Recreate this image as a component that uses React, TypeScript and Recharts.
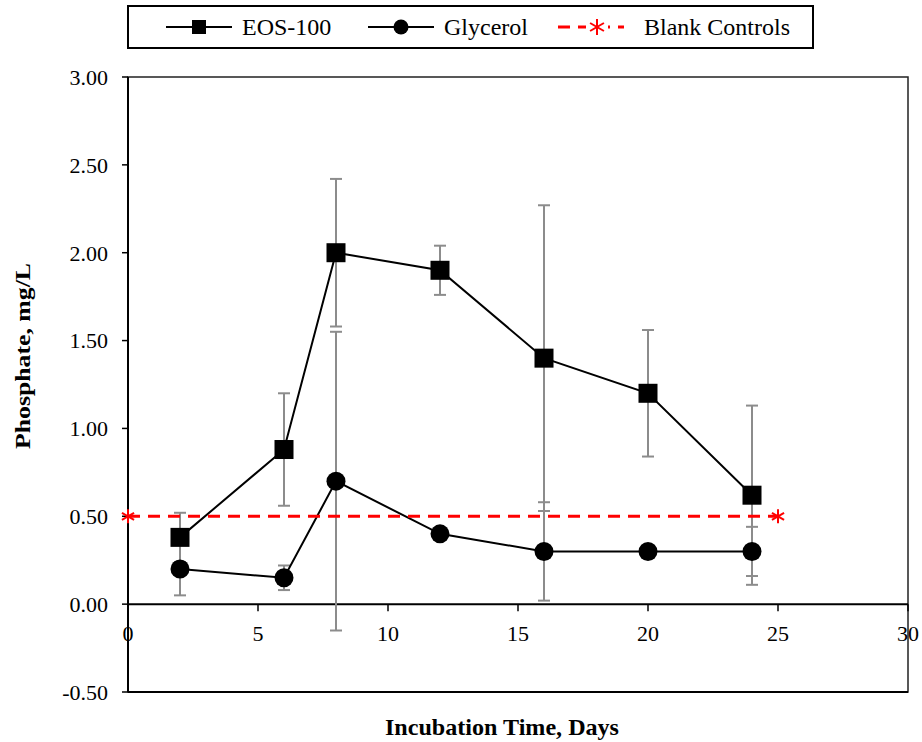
import React from 'react';
import {
  LineChart,
  Line,
  XAxis,
  YAxis,
  ErrorBar,
  ReferenceLine,
  ReferenceArea,
} from 'recharts';

// values
const days = [2, 6, 8, 12, 16, 20, 24];
const eosValues = [0.38, 0.88, 2.0, 1.9, 1.4, 1.2, 0.62];
const eosErrors = [0.14, 0.32, 0.42, 0.14, 0.87, 0.36, 0.51];
const glycerolValues = [0.2, 0.15, 0.7, 0.4, 0.3, 0.3, 0.3];
const glycerolErrors = [0.15, 0.07, 0.85, 0.03, 0.28, 0.03, 0.14];
const blankDays = [0, 25];
const blankValues = [0.5, 0.5];
const xTicks = [0, 5, 10, 15, 20, 25, 30];
const yTicks = [-0.5, 0, 0.5, 1, 1.5, 2, 2.5, 3];

const eosData = days.map((d, i) => ({ day: d, value: eosValues[i], err: eosErrors[i] }));
const glycerolData = days.map((d, i) => ({ day: d, value: glycerolValues[i], err: glycerolErrors[i] }));
const blankData = blankDays.map((d, i) => ({ day: d, value: blankValues[i] }));

const W = 922;
const H = 742;
const MARGIN = { top: 77, right: 14, left: 0, bottom: 0 };
const Y_AXIS_W = 128;
const X_AXIS_H = 50;
const Y_MIN = -0.5;
const Y_MAX = 3;
const PLOT_H = H - MARGIN.top - MARGIN.bottom - X_AXIS_H;
// the x axis crosses at y = 0, so its ticks sit above the bottom of the plot
const ZERO_SHIFT = (PLOT_H * (0 - Y_MIN)) / (Y_MAX - Y_MIN);

const FONT = '"Liberation Serif", "Times New Roman", serif';
const ERR_COLOR = '#8c8c8c';

const XTick = (props: any) => {
  const { x, y, payload } = props;
  const y0 = y - ZERO_SHIFT;
  return (
    <g>
      <line x1={x} y1={y0} x2={x} y2={y0 + 7} stroke="#000" strokeWidth={1.5} />
      <text x={x} y={y0 + 37} textAnchor="middle" fontFamily={FONT} fontSize={22} fill="#000">
        {payload.value}
      </text>
    </g>
  );
};

const XLabel = (props: any) => {
  const { viewBox } = props;
  const cx = viewBox.x + viewBox.width / 2 - 16;
  const cy = viewBox.y + 43;
  return (
    <text
      x={cx}
      y={cy}
      textAnchor="middle"
      fontFamily={FONT}
      fontWeight="bold"
      fontSize={24}
      textLength={234}
      lengthAdjust="spacingAndGlyphs"
      fill="#000"
    >
      Incubation Time, Days
    </text>
  );
};

const YLabel = (props: any) => {
  const { viewBox } = props;
  const cx = viewBox.x + 22;
  const cy = 356;
  return (
    <text
      x={cx}
      y={cy}
      transform={`rotate(-90 ${cx} ${cy})`}
      textAnchor="middle"
      dominantBaseline="central"
      fontFamily={FONT}
      fontWeight="bold"
      fontSize={22}
      textLength={186}
      lengthAdjust="spacingAndGlyphs"
      fill="#000"
    >
      Phosphate, mg/L
    </text>
  );
};

const SquareDot = (props: any) => {
  const { cx, cy, index } = props;
  if (cx == null || cy == null) return <g key={`sq-${index}`} />;
  return <rect key={`sq-${index}`} x={cx - 9.5} y={cy - 9.5} width={19} height={19} fill="#000" />;
};

const CircleDot = (props: any) => {
  const { cx, cy, index } = props;
  if (cx == null || cy == null) return <g key={`ci-${index}`} />;
  return <circle key={`ci-${index}`} cx={cx} cy={cy} r={9.5} fill="#000" />;
};

const Star = ({ cx, cy, r = 7 }: { cx: number; cy: number; r?: number }) => {
  const dx = r * 0.866;
  const dy = r * 0.5;
  return (
    <g stroke="#ff0000" strokeWidth={2}>
      <line x1={cx} y1={cy - r} x2={cx} y2={cy + r} />
      <line x1={cx - dx} y1={cy - dy} x2={cx + dx} y2={cy + dy} />
      <line x1={cx - dx} y1={cy + dy} x2={cx + dx} y2={cy - dy} />
    </g>
  );
};

const StarDot = (props: any) => {
  const { cx, cy, index } = props;
  if (cx == null || cy == null) return <g key={`st-${index}`} />;
  return (
    <g key={`st-${index}`}>
      <Star cx={cx} cy={cy} />
    </g>
  );
};

function ChartLegend() {
  const item = { position: 'absolute' as const, top: 0, height: 40, display: 'flex', alignItems: 'center' };
  return (
    <div
      style={{
        position: 'absolute',
        left: 127,
        top: 5,
        width: 683,
        height: 40,
        border: '2px solid #000',
        background: '#fff',
        fontFamily: FONT,
        fontSize: 24,
        color: '#000',
      }}
    >
      <div style={{ ...item, left: 37 }}>
        <svg width={66} height={20}>
          <line x1={0} y1={10} x2={66} y2={10} stroke="#000" strokeWidth={2} />
          <rect x={26} y={3} width={14} height={14} fill="#000" />
        </svg>
        <span style={{ marginLeft: 10 }}>EOS-100</span>
      </div>
      <div style={{ ...item, left: 239 }}>
        <svg width={66} height={20}>
          <line x1={0} y1={10} x2={66} y2={10} stroke="#000" strokeWidth={2} />
          <circle cx={33} cy={10} r={7.5} fill="#000" />
        </svg>
        <span style={{ marginLeft: 10 }}>Glycerol</span>
      </div>
      <div style={{ ...item, left: 429 }}>
        <svg width={66} height={20}>
          <line x1={0} y1={10} x2={66} y2={10} stroke="#ff0000" strokeWidth={3} strokeDasharray="12 8" />
          <rect x={28} y={0} width={22} height={20} fill="#fff" />
          <Star cx={39} cy={10} r={8} />
        </svg>
        <span style={{ marginLeft: 20 }}>Blank Controls</span>
      </div>
    </div>
  );
}

export default function App() {
  return (
    <div style={{ position: 'absolute', left: 0, top: 0, width: W, height: H, background: '#fff' }}>
      <LineChart width={W} height={H} margin={MARGIN}>
        <ReferenceArea
          x1={0}
          x2={30}
          y1={Y_MIN}
          y2={Y_MAX}
          fill="none"
          stroke="#222"
          strokeWidth={1.5}
          ifOverflow="visible"
        />
        <XAxis
          dataKey="day"
          type="number"
          domain={[0, 30]}
          ticks={xTicks}
          height={X_AXIS_H}
          axisLine={{ stroke: '#000', strokeWidth: 2 }}
          tickLine={false}
          tickSize={0}
          tickMargin={0}
          tick={<XTick />}
          interval={0}
          label={<XLabel />}
        />
        <YAxis
          type="number"
          domain={[Y_MIN, Y_MAX]}
          ticks={yTicks}
          width={Y_AXIS_W}
          interval={0}
          axisLine={false}
          tickLine={{ stroke: '#000', strokeWidth: 1.5 }}
          tickSize={6}
          tickMargin={14}
          tickFormatter={(v: number) => v.toFixed(2)}
          tick={{ fontFamily: FONT, fontSize: 22, fill: '#000' }}
          label={<YLabel />}
        />
        <ReferenceLine x={0} stroke="#000" strokeWidth={2} />
        <ReferenceLine y={0} stroke="#000" strokeWidth={2} />
        <Line
          data={eosData}
          dataKey="value"
          name="EOS-100"
          type="linear"
          stroke="#000"
          strokeWidth={2}
          dot={SquareDot}
          activeDot={false}
          isAnimationActive={false}
        >
          <ErrorBar dataKey="err" direction="y" width={6} stroke={ERR_COLOR} strokeWidth={2} />
        </Line>
        <Line
          data={glycerolData}
          dataKey="value"
          name="Glycerol"
          type="linear"
          stroke="#000"
          strokeWidth={2}
          dot={CircleDot}
          activeDot={false}
          isAnimationActive={false}
        >
          <ErrorBar dataKey="err" direction="y" width={6} stroke={ERR_COLOR} strokeWidth={2} />
        </Line>
        <Line
          data={blankData}
          dataKey="value"
          name="Blank Controls"
          type="linear"
          stroke="#ff0000"
          strokeWidth={3}
          strokeDasharray="12 8"
          dot={StarDot}
          activeDot={false}
          isAnimationActive={false}
        />
      </LineChart>
      <ChartLegend />
    </div>
  );
}
